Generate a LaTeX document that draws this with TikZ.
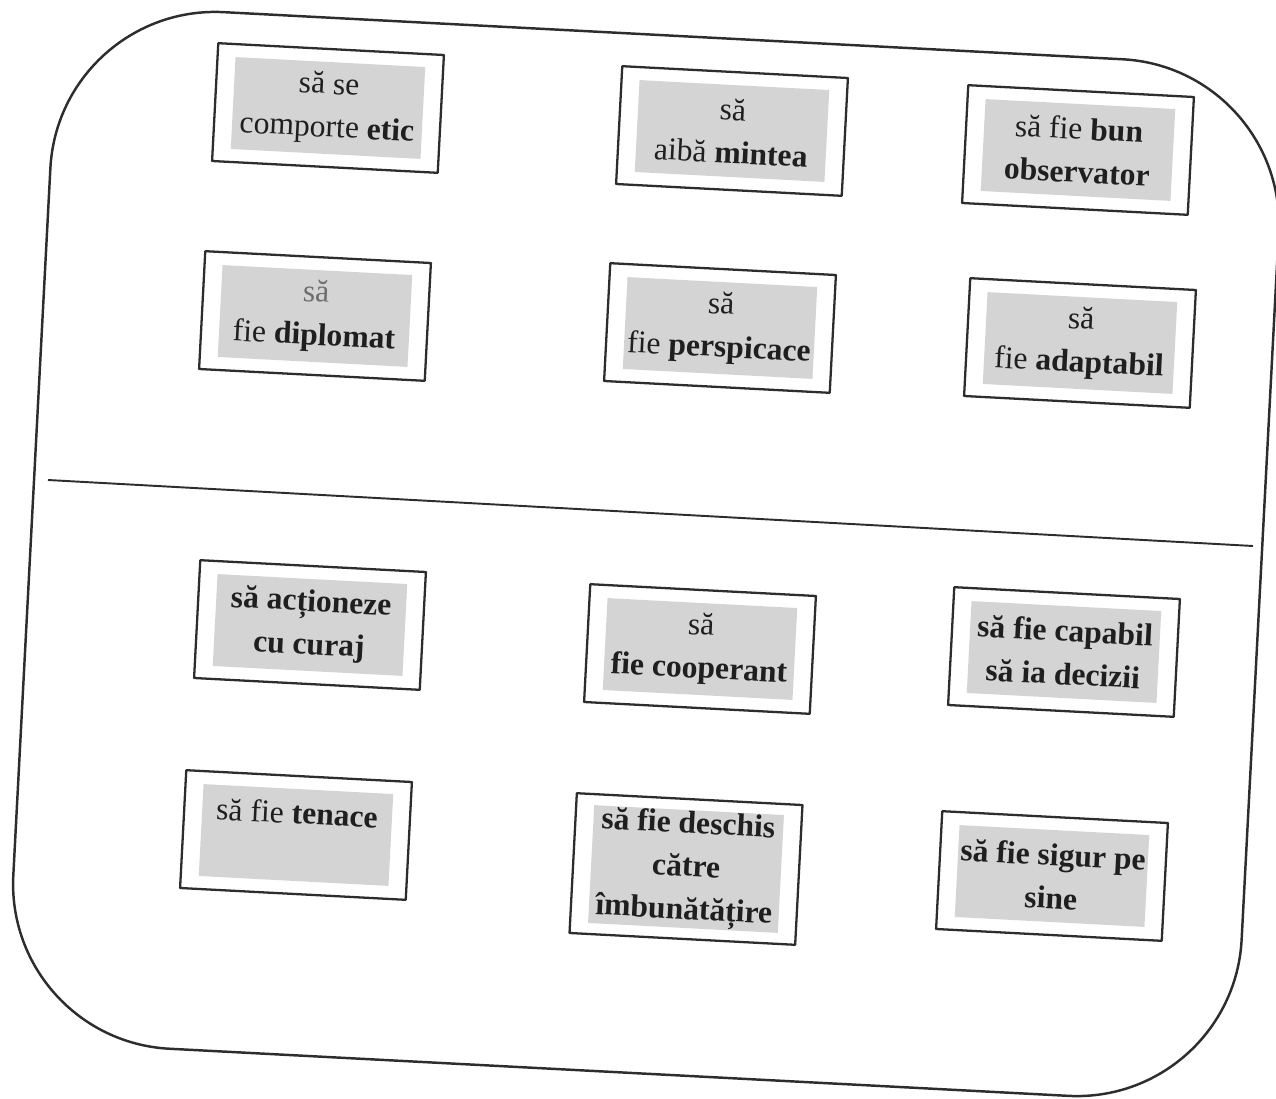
\documentclass[tikz,border=0pt]{standalone}
\usepackage{fontspec}
\setmainfont{Liberation Serif}
\definecolor{cardgray}{RGB}{212,212,212}
\definecolor{ink}{RGB}{45,45,45}
\definecolor{pale}{RGB}{110,110,110}
\tikzset{
  frame/.style={draw=ink,line width=1.3pt,fill=white,rotate=-3,
    minimum width=4.52cm,minimum height=2.36cm,inner sep=0pt},
  card/.style={fill=cardgray,rotate=-3,minimum width=3.8cm,minimum height=1.84cm,
    inner sep=0pt,align=center,text=black!88,font=\fontsize{18}{24.5}\selectfont},
}

\begin{document}
\begin{tikzpicture}[x=0.02cm,y=-0.02cm,line join=round]
  \useasboundingbox (0,0) rectangle (1276,1099);
  % outer frame and divider
  \draw[ink,line width=1.4pt,rounded corners=3.3cm,rotate around={-3:(646,554)}]
    (31,35) rectangle (1261,1073);
  \coordinate (divL) at (48,480);
  \coordinate (divR) at (1253,546);
  \draw[ink,line width=1.1pt] (divL) -- (divR);
  % upper half
  \node[frame] (etic) at (328,108) {};
  \node[card] (etic-t) at (etic) {să se\\comporte \textbf{etic}};
  \node[frame] (mintea) at (732,131) {};
  \node[card] (mintea-t) at (mintea) {să\\aibă \textbf{mintea}};
  \node[frame] (observator) at (1078,150) {};
  \node[card] (observator-t) at (observator) {să fie \textbf{bun}\\\textbf{observator}};
  \node[frame] (diplomat) at (315,316) {};
  \node[card] (diplomat-t) at (diplomat) {{\color{pale}să}\\fie \textbf{diplomat}};
  \node[frame] (perspicace) at (720,328) {};
  \node[card] (perspicace-t) at (perspicace) {să\\fie \textbf{perspicace}};
  \node[frame] (adaptabil) at (1080,343) {};
  \node[card] (adaptabil-t) at (adaptabil) {să\\fie \textbf{adaptabil}};
  % lower half
  \node[frame] (curaj) at (310,625) {};
  \node[card] (curaj-t) at (curaj) {\textbf{să acționeze}\\\textbf{cu curaj}};
  \node[frame] (cooperant) at (700,649) {};
  \node[card] (cooperant-t) at (cooperant) {să\\\textbf{fie cooperant}};
  \node[frame] (decizii) at (1064,652) {};
  \node[card] (decizii-t) at (decizii) {\textbf{să fie capabil}\\\textbf{să ia decizii}};
  \node[frame] (tenace) at (296,835) {};
  \node[card,text depth=0.9cm] (tenace-t) at (tenace) {să fie \textbf{tenace}};
  \node[frame,minimum height=2.8cm] (deschis) at (686,869) {};
  \node[card,minimum height=2.36cm] (deschis-t) at (deschis)
    {\textbf{să fie deschis}\\\textbf{către}\\\textbf{îmbunătățire}};
  \node[frame] (sigur) at (1052,876) {};
  \node[card] (sigur-t) at (sigur) {\textbf{să fie sigur pe}\\\textbf{sine}};
\end{tikzpicture}
\end{document}
